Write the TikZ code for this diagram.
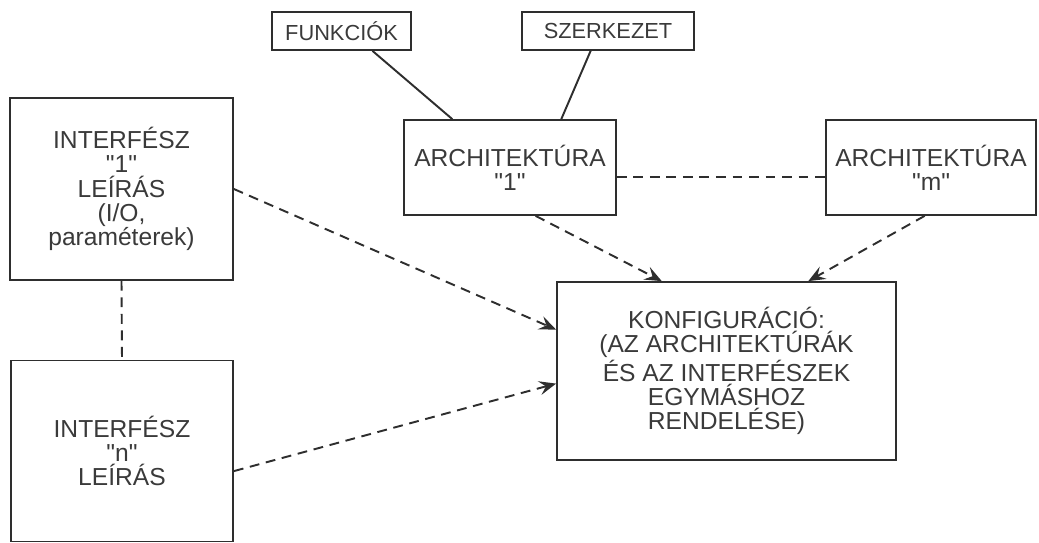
\documentclass[tikz,border=0pt]{standalone}
\usepackage{fontspec}
\setmainfont{Liberation Sans}[Ligatures=TeXOff]
\usepackage{xcolor}
\usepackage{tikz}
\usetikzlibrary{calc,arrows.meta}
\definecolor{Vonal}{HTML}{2E2E2E}
\definecolor{Szoveg}{HTML}{3A3A3A}
\newcommand{\idez}[1]{{\char34}#1{\char34}}

\begin{document}
\begin{tikzpicture}[
        doboz/.style={draw=Vonal, line width=1pt, text=Szoveg, align=center,
            inner sep=2pt, font=\fontsize{14}{13.8}\selectfont},
        kisdoboz/.style={doboz, font=\fontsize{12.4}{13}\selectfont},
        szaggatott/.style={draw=Vonal, line width=1.1pt, dash pattern=on 5.6pt off 3.8pt},
        nyil/.style={szaggatott, -{Stealth[length=3.4mm,width=2.8mm,inset=1.3mm]}},
        kapcsolat/.style={draw=Vonal, line width=1.1pt}
    ]
        \useasboundingbox (0,0) rectangle (20.78,-10.86);

        \node[kisdoboz, minimum width=2.78cm, minimum height=0.76cm] (funk) at (6.83,-0.62) {FUNKCI\'OK};
        \node[kisdoboz, minimum width=3.44cm, minimum height=0.76cm] (szerk) at (12.16,-0.62) {SZERKEZET};
        \node[doboz, minimum width=4.24cm, minimum height=1.90cm] (arch1) at (10.20,-3.35) {ARCHITEKT\'URA\\\idez{1}};
        \node[doboz, minimum width=4.20cm, minimum height=1.90cm] (archm) at (18.62,-3.35) {ARCHITEKT\'URA\\\idez{m}};

        \node[doboz, minimum width=4.46cm, minimum height=3.64cm] (int1) at (2.43,-3.78) {INTERF\'ESZ\\\idez{1}\\LE\'IR\'AS\\(I/O,\\param\'eterek)};
        \node[doboz, minimum width=4.44cm, minimum height=3.62cm] (intn) at (2.44,-9.02) {INTERF\'ESZ\\\idez{n}\\LE\'IR\'AS};

        \node[doboz, minimum width=6.78cm, minimum height=3.56cm] (konf) at (14.53,-7.42) {KONFIGUR\'ACI\'O:\\(AZ ARCHITEKT\'UR\'AK\\\'ES AZ INTERF\'ESZEK\\EGYM\'ASHOZ\\RENDEL\'ESE)};

        % felso kapcsolatok
        \draw[kapcsolat] ($(funk.south west)!0.72!(funk.south east)$) -- ($(arch1.north west)!0.23!(arch1.north east)$);
        \draw[kapcsolat] ($(szerk.south west)!0.40!(szerk.south east)$) -- ($(arch1.north west)!0.74!(arch1.north east)$);
        \draw[szaggatott] ($(arch1.north east)!0.6!(arch1.south east)$) -- ($(archm.north west)!0.6!(archm.south west)$);
        \draw[szaggatott] (int1.south) -- (intn.north);

        % nyilak a konfiguraciohoz
        \draw[nyil] ($(arch1.south west)!0.62!(arch1.south east)$) -- ($(konf.north west)!0.31!(konf.north east)$);
        \draw[nyil] ($(archm.south west)!0.47!(archm.south east)$) -- ($(konf.north west)!0.74!(konf.north east)$);
        \draw[nyil] (int1.east) -- ($(konf.north west)!0.27!(konf.south west)$);
        \draw[nyil] ($(intn.north east)!0.61!(intn.south east)$) -- ($(konf.north west)!0.57!(konf.south west)$);
    \end{tikzpicture}
\end{document}
